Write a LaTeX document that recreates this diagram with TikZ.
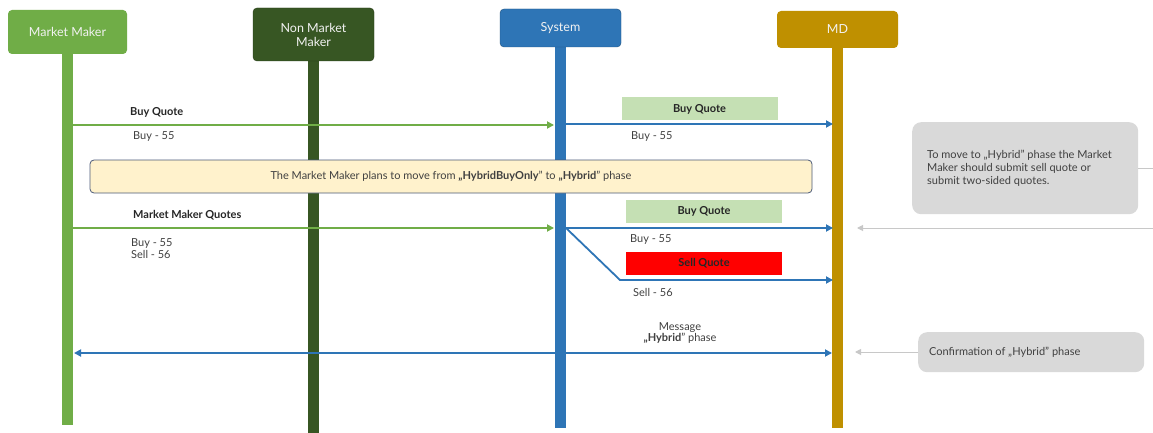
\documentclass[tikz,border=0pt]{standalone}
\usepackage{fontspec}
\setmainfont{Lato}
\usetikzlibrary{arrows.meta}
\definecolor{mmgreen}{HTML}{70AD47}
\definecolor{nmmgreen}{HTML}{375623}
\definecolor{sysblue}{HTML}{2E75B6}
\definecolor{mdgold}{HTML}{BF9000}
\definecolor{lightgreen}{HTML}{C5E0B4}
\definecolor{noteyellow}{HTML}{FFF2CC}
\definecolor{noteborder}{HTML}{4A5A78}
\definecolor{boxgray}{HTML}{D9D9D9}
\definecolor{txtgray}{HTML}{404040}
\definecolor{linegray}{HTML}{C8C8C8}
\tikzset{
  header/.style={rounded corners=4pt, text=white!95!black, font=\fontsize{12.5}{14}\selectfont, align=center, inner sep=0pt},
  lifeline/.style={line width=10.5pt},
  msg/.style={line width=1.8pt, -{Triangle[length=7pt,width=7pt]}},
  lbl/.style={anchor=west, inner sep=0pt, text=txtgray, font=\fontsize{11}{13}\selectfont, align=left},
  blbl/.style={anchor=west, inner sep=0pt, text=black!85, font=\bfseries\fontsize{11}{13}\selectfont},
  quotebox/.style={minimum width=156pt, minimum height=23pt, inner sep=0pt, font=\bfseries\fontsize{11}{13}\selectfont, text=black!85},
  graybox/.style={fill=boxgray, rounded corners=9pt, inner sep=0pt},
  grayarrow/.style={draw=linegray, line width=1pt, -{Triangle[length=6pt,width=6pt]}}
}
\begin{document}
\begin{tikzpicture}[x=1pt,y=-1pt]
\useasboundingbox[fill=white] (0,0) rectangle (1153,433);

% lifeline ends
\coordinate (mmtop) at (67.5,40);
\coordinate (mmend) at (67.5,425);
\coordinate (nmmtop) at (313.5,40);
\coordinate (nmmend) at (313.5,433);
\coordinate (systop) at (560.5,30);
\coordinate (sysend) at (560.5,428);
\coordinate (mdtop) at (837.5,30);
\coordinate (mdend) at (837.5,428);

\draw[lifeline, mmgreen] (mmtop) -- (mmend);
\draw[lifeline, nmmgreen] (nmmtop) -- (nmmend);
\draw[lifeline, sysblue] (systop) -- (sysend);
\draw[lifeline, mdgold] (mdtop) -- (mdend);

% headers
\node[header, fill=mmgreen, minimum width=119pt, minimum height=44pt] (mm) at (67.5,32) {Market Maker};
\node[header, fill=nmmgreen, draw=nmmgreen!70!black, minimum width=121pt, minimum height=53pt] (nmm) at (313.5,34.5) {Non Market\\Maker};
\node[header, fill=sysblue, draw=sysblue!70!black, minimum width=121pt, minimum height=38pt] (sys) at (560.5,28) {System};
\node[header, fill=mdgold, minimum width=121pt, minimum height=37pt] (md) at (837.5,29.5) {MD};

% message 1
\coordinate (m1a) at (73,125);
\coordinate (m1b) at (554,125);
\coordinate (m1c) at (566,124);
\coordinate (m1d) at (833,124);
\draw[msg, mmgreen] (m1a) -- (m1b);
\draw[msg, sysblue] (m1c) -- (m1d);
\node[blbl] (t1) at (130,112) {Buy Quote};
\node[lbl] (t2) at (133,137) {Buy - 55};
\node[quotebox, fill=lightgreen] (q1) at (699.5,109) {Buy Quote};
\node[lbl] (t3) at (631,137) {Buy - 55};

% note
\node[draw=noteborder, line width=0.8pt, fill=noteyellow, rounded corners=4pt, minimum width=722pt, minimum height=33pt, inner sep=0pt, text=txtgray, font=\fontsize{11}{13}\selectfont] (note) at (451,176.5) {The Market Maker plans to move from \textbf{„HybridBuyOnly}” to \textbf{„Hybrid}” phase};

% message 2
\coordinate (m2a) at (73,228);
\coordinate (m2b) at (554,228);
\coordinate (m2c) at (566,228);
\coordinate (m2d) at (833,228);
\coordinate (m2k) at (620,280);
\coordinate (m2e) at (833,280);
\draw[msg, mmgreen] (m2a) -- (m2b);
\draw[msg, sysblue] (m2c) -- (m2d);
\draw[msg, sysblue] (m2c) -- (m2k) -- (m2e);
\node[blbl] (t4) at (133,215) {Market Maker Quotes};
\node[lbl] (t5) at (131,248.5) {Buy - 55\\[-0.5pt]Sell - 56};
\node[quotebox, fill=lightgreen] (q2) at (704,211.5) {Buy Quote};
\node[lbl] (t6) at (630,240) {Buy - 55};
\node[quotebox, fill=red] (q3) at (704,263.5) {Sell Quote};
\node[lbl] (t7) at (633,292) {Sell - 56};

% message 3
\coordinate (m3a) at (74,353);
\coordinate (m3b) at (832,353);
\draw[line width=1.8pt, sysblue, {Triangle[length=7pt,width=7pt]}-{Triangle[length=7pt,width=7pt]}] (m3a) -- (m3b);
\node[text=txtgray, font=\fontsize{11}{13}\selectfont, align=center, inner sep=0pt] (t8) at (680,333) {Message\\[-1.5pt]\textbf{„Hybrid}” phase};

% right notes
\node[graybox, minimum width=226pt, minimum height=92pt, anchor=north west] (g1) at (912,122) {};
\node[lbl] (g1t) at (927,168) {To move to „Hybrid” phase the Market\\[0pt]Maker should submit sell quote or\\[0pt]submit two-sided quotes.};
\coordinate (g1r) at (1153,168);
\draw[linegray, line width=1pt] (g1.east |- g1r) -- (g1r);
\coordinate (g2s) at (1153,228);
\coordinate (g2e) at (857,228);
\draw[grayarrow] (g2s) -- (g2e);

\node[graybox, minimum width=226pt, minimum height=40pt, anchor=north west] (g2) at (918,332) {};
\node[lbl] (g2t) at (929,352) {Confirmation of „Hybrid” phase};
\coordinate (g3e) at (855,352);
\draw[grayarrow] (g2.west |- g3e) -- (g3e);
\end{tikzpicture}
\end{document}
